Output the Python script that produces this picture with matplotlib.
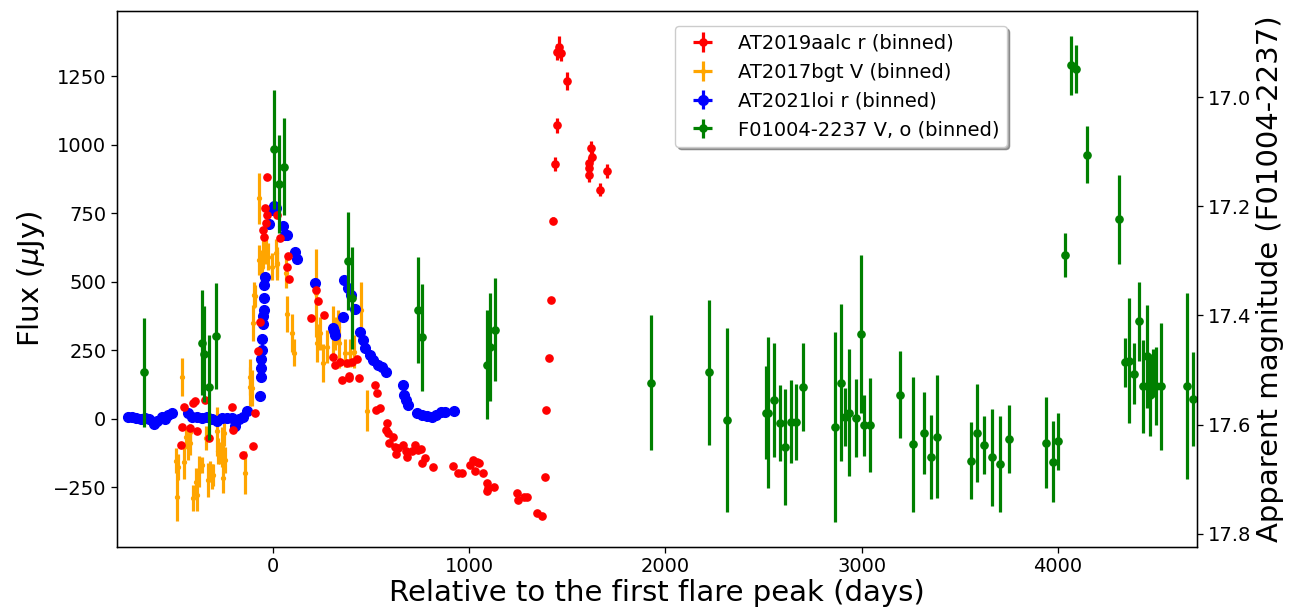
import matplotlib
matplotlib.use('Agg')
import matplotlib.pyplot as plt
import numpy as np

# AT2019aalc r (binned): days, flux (uJy), error
red_t = [-467, -464, -454, -423, -409, -396, -386, -345, -325, -210, -205, -154, -100, -92,
         -75, -66, -52, -46, -36, -39, -29, -31, 22, 36, 76, 73, 80, 218, 228, 192, 261,
         307, 317, 341, 376, 403, 386, 353, 440, 427, 387, 520, 528, 525, 545,
         579, 576, 588, 610, 593, 622, 639, 664, 676, 681, 707, 724, 740, 756, 627,
         775, 758, 817, 916, 944, 962, 1004, 1021, 1038, 1051, 1029, 1069,
         1089, 1097, 1092, 1126, 1245, 1250, 1293, 1279, 1347, 1371, 1385, 1393, 1406,
         1417, 1427, 1436, 1446, 1459, 1468, 1447, 1500, 1622, 1626, 1612, 1609, 1609,
         1700, 1666]
red_f = [-95, -28, 45, -34, 59, 67, -46, 69, -68, 43, -40, -131, -99, 21,
         249, 355, 690, 665, 714, 769, 882, 745, 745, 660, 595, 556, 510, 471, 430, 370, 379,
         225, 197, 209, 203, 208, 157, 141, 151, 218, 149, 123, 94, 33, 39,
         -16, -40, -52, -67, -89, -101, -107, -95, -119, -138, -119, -95, -113, -111, -128,
         -143, -162, -176, -172, -196, -198, -168, -150, -156, -162, -189, -198,
         -235, -253, -265, -249, -271, -296, -286, -287, -342, -354, -211, 32, 222,
         435, 724, 930, 1072, 1359, 1336, 1340, 1234, 988, 957, 933, 915, 891,
         904, 837]
red_e = [5] * 86 + [13, 25, 27, 40, 30, 30, 32, 26, 20, 22, 20, 27, 25, 23]

# AT2017bgt V (binned)
orange_t = [-494, -489, -483, -465, -454, -443, -432, -423, -423, -409, -392, -386, -376,
            -363, -330, -321, -312, -304, -343, -287, -279, -270, -261, -253, -250, -245,
            -143, -117, -117, -109, -100, -97, -92, -73, -70, -63, -58, -49, -36, -24, -7,
            19, 22, 15, 66, 73, 95, 107, 218, 223, 240, 256, 274, 307, 316, 333, 338,
            367, 392, 413, 448, 477]
orange_f = [-152, -284, -176, 152, -156, -65, -101, -89, -49, -289, -229, -277, -192,
            -168, -223, -192, -211, -204, -70, -46, -116, -125, -101, -217, -52, -150,
            -196, 152, 118, 112, 349, 453, 449, 805, 580, 568, 556, 605, 617, 592, 556,
            566, 568, 605, 532, 382, 313, 242, 459, 276, 313, 203, 264, 313, 313, 337, 276,
            240, 240, 246, 398, 30]
orange_e = [45, 90, 48, 70, 62, 37, 48, 43, 30, 48, 48, 60, 55,
            30, 63, 40, 45, 40, 43, 90, 48, 40, 73, 55, 48, 48,
            80, 65, 70, 65, 65, 48, 40, 92, 55, 50, 55, 50, 50, 50, 50,
            60, 50, 50, 55, 65, 70, 50, 160, 70, 60, 70, 60, 100, 60, 60, 90,
            50, 50, 60, 100, 75]

# AT2021loi r (binned)
blue_t = [-737, -720, -698, -674, -652, -630, -606, -593, -567, -550, -534, -516,
          -432, -414, -389, -363, -338, -312, -287, -261, -236, -210, -194, -172, -151, -131,
          -66, -63, -63, -59, -55, -55, -51, -49, -48, -46, -43, -41,
          -19, -7, 5, 15, 52, 61, 73, 111, 121, 216, 362, 382, 396, 418, 358, 307, 316, 311,
          443, 457, 469, 494, 511, 537, 554, 576, 664, 668, 678, 686,
          732, 758, 783, 809, 831, 855, 877, 922]
blue_f = [6, 8, 3, -1, 5, -1, -19, -6, 6, -1, 15, 23,
          23, 6, 6, 3, 6, -1, -6, 3, 3, 3, -26, -1, 8, 27,
          85, 154, 185, 217, 252, 290, 347, 376, 396, 441, 487, 517,
          712, 763, 777, 769, 704, 672, 671, 611, 584, 495, 507, 477, 453, 400, 373, 331, 307, 321,
          319, 288, 258, 234, 215, 197, 189, 170, 123, 88, 69, 51,
          21, 15, 11, 6, 15, 24, 24, 27]
blue_e = [3] * len(blue_t)

# F01004-2237 V, o (binned): days, apparent magnitude, error
green_t = [-657, -360, -352, -328, -290, 5, 32, 55, 382, 401, 740, 759, 1092, 1106, 1131,
           1928, 2222, 2314, 2515, 2525, 2553, 2585, 2608, 2641, 2667, 2702,
           2866, 2893, 2916, 2938, 2973, 2998, 3014, 3041, 3195, 3264, 3316, 3353, 3383,
           3555, 3590, 3626, 3666, 3704, 3749, 3939, 3975, 4001,
           4038, 4067, 4094, 4147, 4311, 4342, 4360, 4389, 4413, 4433, 4455, 4469, 4484,
           4498, 4524, 4660, 4689]
green_m = [17.504, 17.450, 17.471, 17.532, 17.438, 17.095, 17.159, 17.127, 17.300, 17.368,
           17.390, 17.440, 17.490, 17.457, 17.426,
           17.523, 17.504, 17.592, 17.578, 17.578, 17.555, 17.597, 17.641, 17.595, 17.595, 17.531,
           17.605, 17.523, 17.586, 17.578, 17.588, 17.434, 17.601, 17.601, 17.545, 17.636,
           17.615, 17.660, 17.622,
           17.666, 17.615, 17.638, 17.660, 17.672, 17.626, 17.633, 17.668, 17.631,
           17.289, 16.941, 16.948, 17.105, 17.224, 17.486, 17.483, 17.507, 17.411, 17.530,
           17.475, 17.546, 17.505, 17.529, 17.530, 17.529, 17.553]
green_e = [0.100, 0.096, 0.088, 0.097, 0.097, 0.109, 0.089, 0.089, 0.090, 0.093,
           0.097, 0.098, 0.100, 0.099, 0.095,
           0.124, 0.133, 0.169, 0.085, 0.138, 0.104, 0.069, 0.107, 0.076, 0.069, 0.081,
           0.174, 0.144, 0.053, 0.116, 0.071, 0.145, 0.056, 0.086, 0.080, 0.124,
           0.075, 0.077, 0.112,
           0.070, 0.090, 0.053, 0.089, 0.088, 0.062, 0.083, 0.074, 0.053,
           0.040, 0.054, 0.044, 0.052, 0.082, 0.045, 0.115, 0.056, 0.073, 0.085,
           0.095, 0.075, 0.044, 0.072, 0.117, 0.171, 0.086]

# half bin width (days) -> tiny horizontal bars, visible mostly in the legend
bin_half = 4

# everything looks ~1.16x the default sizes
s = 1.16
plt.rcParams['axes.linewidth'] = 0.8 * s
plt.rcParams['xtick.major.width'] = 0.8 * s
plt.rcParams['ytick.major.width'] = 0.8 * s
plt.rcParams['xtick.major.size'] = 3.5 * s
plt.rcParams['ytick.major.size'] = 3.5 * s

fig, ax = plt.subplots(figsize=(12.99, 6.13), dpi=100)
plt.subplots_adjust(left=0.090, right=0.9215, top=0.982, bottom=0.108)

h_red = ax.errorbar(red_t, red_f, yerr=red_e, xerr=bin_half, fmt='o', color='red', ms=5.2,
                    elinewidth=2.3, label='AT2019aalc r (binned)', zorder=3)
h_orange = ax.errorbar(orange_t, orange_f, yerr=orange_e, xerr=bin_half, fmt='o',
                       color='orange', ms=2.8, elinewidth=2.3,
                       label='AT2017bgt V (binned)', zorder=2)
h_blue = ax.errorbar(blue_t, blue_f, yerr=blue_e, xerr=bin_half, fmt='o', color='blue', ms=7,
                     elinewidth=2.3, label='AT2021loi r (binned)', zorder=2.5)

ax.set_xlim(-795, 4709)
ax.set_ylim(-467, 1489)
ax.set_yticks([-250, 0, 250, 500, 750, 1000, 1250])
ax.set_xticks([0, 1000, 2000, 3000, 4000])
ax.tick_params(labelsize=14)
ax.set_xlabel('Relative to the first flare peak (days)', fontsize=21, labelpad=2)
ax.set_ylabel(r'Flux ($\mu$Jy)', fontsize=21)

ax2 = ax.twinx()
h_green = ax2.errorbar(green_t, green_m, yerr=green_e, xerr=bin_half, fmt='o', color='green',
                       ms=5.2, elinewidth=2.3, label='F01004-2237 V, o (binned)')
ax2.set_ylim(17.824, 16.842)
ax2.set_yticks([17.0, 17.2, 17.4, 17.6, 17.8])
ax2.tick_params(labelsize=14)
ax2.set_ylabel('Apparent magnitude (F01004-2237)', fontsize=21)

handles = [h_red, h_orange, h_blue, h_green]
ax2.legend(handles, [h.get_label() for h in handles], loc='upper left',
           bbox_to_anchor=(0.508, 0.99), fontsize=14, shadow=True)

plt.savefig('out.png', dpi=100)
plt.close()
